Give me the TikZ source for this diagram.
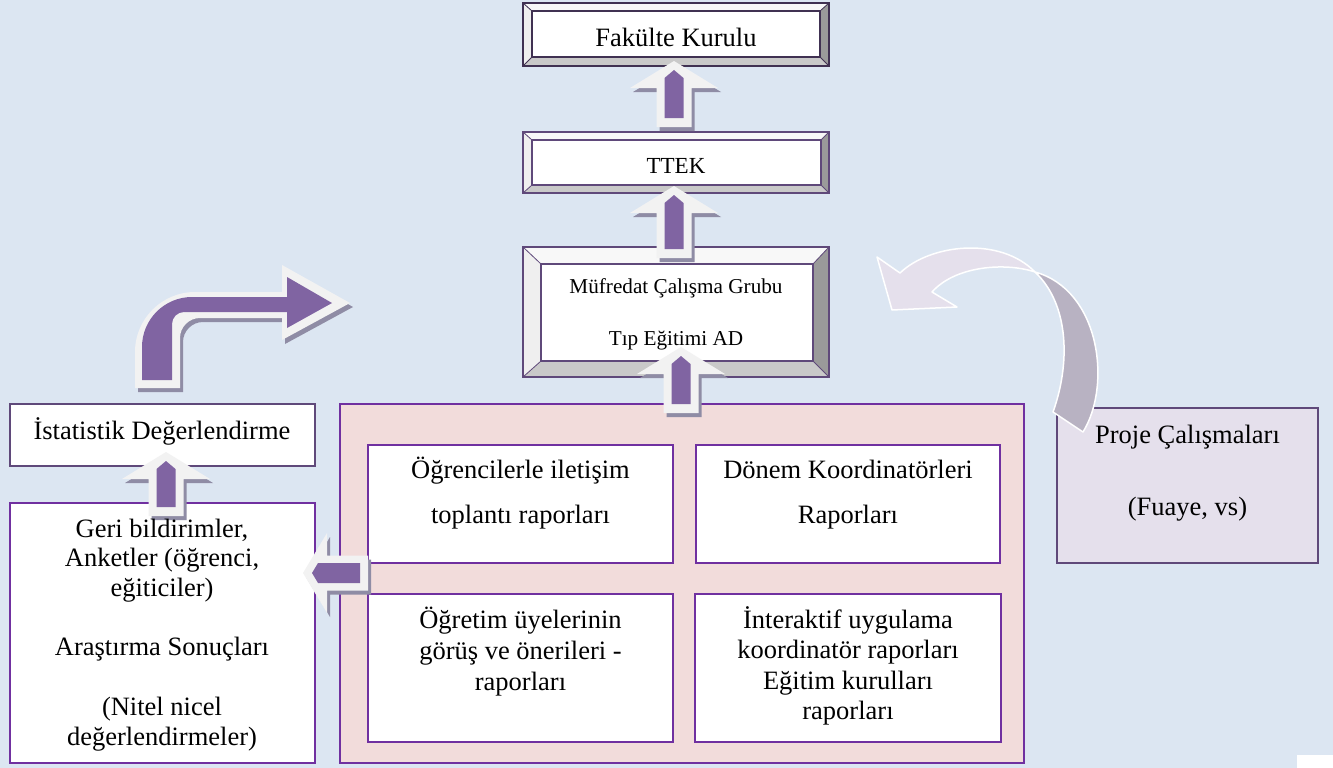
\documentclass[tikz,border=0pt]{standalone}
\usepackage{fontspec}
\setmainfont{Liberation Serif}
\definecolor{bgc}{HTML}{DCE6F2}
\definecolor{pinkc}{HTML}{F2DCDB}
\definecolor{purpc}{HTML}{7030A0}
\definecolor{dpurp}{HTML}{5F497A}
\definecolor{ddpurp}{HTML}{403152}
\definecolor{arrp}{HTML}{8064A2}
\definecolor{arrw}{HTML}{F2F2F2}
\definecolor{arrs}{HTML}{8F8CA5}
\definecolor{lav}{HTML}{E5E0EC}
\definecolor{lavd}{HTML}{B8B2C2}
\definecolor{bevT}{HTML}{F8F8F8}
\definecolor{bevL}{HTML}{EFEFEF}
\definecolor{bevR}{HTML}{9A9A9A}
\definecolor{bevB}{HTML}{C9C9C9}
% bevelled box: outer x1 y1 x2 y2, inner x1 y1 x2 y2, border colour
\newcommand\bevelbox[9]{%
  \fill[bevT] (#1,#2) -- (#3,#2) -- (#7,#6) -- (#5,#6) -- cycle;
  \fill[bevL] (#1,#2) -- (#5,#6) -- (#5,#8) -- (#1,#4) -- cycle;
  \fill[bevR] (#3,#2) -- (#3,#4) -- (#7,#8) -- (#7,#6) -- cycle;
  \fill[bevB] (#1,#4) -- (#3,#4) -- (#7,#8) -- (#5,#8) -- cycle;
  \fill[white] (#5,#6) rectangle (#7,#8);
  \draw[#9,line width=0.8pt] (#1,#2) -- (#5,#6) (#3,#2) -- (#7,#6) (#3,#4) -- (#7,#8) (#1,#4) -- (#5,#8);
  \draw[#9,line width=2.2pt] (#1,#2) rectangle (#3,#4);
  \draw[#9,line width=1.8pt] (#5,#6) rectangle (#7,#8);
}
% up block arrow: centre x, tip y, bottom y
\newcommand\uparr[3]{%
  \fill[arrs,shift={(3,4)}] (#1,#2) -- ({#1+44},{#2+27}) -- ({#1+17.5},{#2+27}) -- ({#1+17.5},#3) -- ({#1-17.5},#3) -- ({#1-17.5},{#2+27}) -- ({#1-44},{#2+27}) -- cycle;
  \fill[arrw] (#1,#2) -- ({#1+44},{#2+27}) -- ({#1+17.5},{#2+27}) -- ({#1+17.5},#3) -- ({#1-17.5},#3) -- ({#1-17.5},{#2+27}) -- ({#1-44},{#2+27}) -- cycle;
  \fill[arrp] ({#1-9.5},{#3-9}) -- ({#1+9.5},{#3-9}) -- ({#1+9.5},{#2+17}) -- (#1,{#2+9}) -- ({#1-9.5},{#2+17}) -- cycle;
}
\begin{document}
\begin{tikzpicture}[x=1pt,y=-1pt,
  txt/.style={inner sep=0pt,anchor=base,align=center},
  pbox/.style={draw=purpc,line width=2pt,fill=white},
  dbox/.style={draw=dpurp,line width=2pt}]
\useasboundingbox (0,0) rectangle (1333,768);
\fill[bgc] (0,0) rectangle (1333,768);
\fill[white] (1297,755) rectangle (1333,768);

% bevelled boxes
\bevelbox{523}{3}{829}{66}{532}{11}{820}{57}{ddpurp}
\bevelbox{523}{132}{829}{193}{532}{140}{821}{185}{dpurp}
\bevelbox{523}{247}{829}{377}{541}{264}{813}{361}{dpurp}

% big pink box and inner boxes
\draw[fill=pinkc,draw=purpc,line width=2pt] (340,404) rectangle (1024,763);
\draw[pbox] (368,445) rectangle (673,563);
\draw[pbox] (696,445) rectangle (1000,563);
\draw[pbox] (368,594) rectangle (673,742);
\draw[pbox] (695,594) rectangle (1001,742);

% left boxes
\draw[dbox,fill=white] (10,404) rectangle (315,466);
\draw[pbox] (10,503) rectangle (315,763);

% project box
\draw[dbox,fill=lav] (1057,408) rectangle (1318,563);

% up arrows
\uparr{674}{61}{127}
\uparr{674}{186}{258}
\uparr{681}{347}{413}
\uparr{166}{452}{516}

% left arrow
\fill[arrs,shift={(3,4)}] (303,573) -- (327,533) -- (327,555.5) -- (368,555.5) -- (368,590.5) -- (327,590.5) -- (327,613) -- cycle;
\fill[arrw] (303,573) -- (327,533) -- (327,555.5) -- (368,555.5) -- (368,590.5) -- (327,590.5) -- (327,613) -- cycle;
\fill[arrp] (312,573) -- (318,563) -- (360,563) -- (360,583) -- (318,583) -- cycle;

% bent arrow (left, upper)
\fill[arrs,shift={(3,4)}] (135,388) -- (135,352) .. controls (135,318.9) and (161.9,292) .. (195,292) -- (282,292) -- (282,265) -- (350,303) -- (282,340) -- (282,318) -- (200,318) .. controls (189,318) and (180,327) .. (180,338) -- (180,388) -- cycle;
\fill[arrw] (135,388) -- (135,352) .. controls (135,318.9) and (161.9,292) .. (195,292) -- (282,292) -- (282,265) -- (350,303) -- (282,340) -- (282,318) -- (200,318) .. controls (189,318) and (180,327) .. (180,338) -- (180,388) -- cycle;
\fill[arrp] (142,380) -- (142,347) .. controls (142,319.4) and (164.4,297) .. (192,297) -- (287,297) -- (287,277) -- (332,303) -- (287,328) -- (287,312) -- (184,312) .. controls (177.4,312) and (172,317.4) .. (172,324) -- (172,380) -- cycle;

% curved arrow (right)
\filldraw[fill=lav,draw=white,line width=1.5pt,line join=round] (900,273) .. controls (930,244) and (1000,236) .. (1035,272) .. controls (1005,262) and (955,266) .. (932,292) -- (957,307) -- (892,310) -- (877,257) -- cycle;
\filldraw[fill=lavd,draw=white,line width=1.5pt,line join=round] (1035,272) .. controls (1100,290) and (1112,385) .. (1083,432) -- (1053,412) .. controls (1070,365) and (1070,305) .. (1035,272) -- cycle;

% texts (base anchor = baseline of the last line)
\node[txt,font={\fontsize{26.5}{30}\selectfont}] (fk) at (676,46.7) {Fakülte Kurulu};
\node[txt,font={\fontsize{23}{28}\selectfont}] (ttek) at (676,173.3) {TTEK};
\node[txt,font={\fontsize{21.2}{51.7}\selectfont}] (mcg) at (676,345) {Müfredat Çalışma Grubu\\Tıp Eğitimi AD};
\node[txt,font={\fontsize{26.5}{30}\selectfont}] (ist) at (162,439) {İstatistik Değerlendirme};
\node[txt,font={\fontsize{26.5}{29.7}\selectfont}] (geri) at (162,745) {Geri bildirimler,\\Anketler (öğrenci,\\eğiticiler)\\[29.7pt]Araştırma Sonuçları\\[29.7pt](Nitel nicel\\değerlendirmeler)};
\node[txt,font={\fontsize{26.5}{45}\selectfont}] (ogr) at (520.5,523) {Öğrencilerle iletişim\\toplantı raporları};
\node[txt,font={\fontsize{26.5}{45}\selectfont}] (don) at (848,523) {Dönem Koordinatörleri\\Raporları};
\node[txt,font={\fontsize{26.5}{31}\selectfont}] (ogt) at (520.5,690) {Öğretim üyelerinin\\görüş ve önerileri -\\raporları};
\node[txt,font={\fontsize{26.5}{30.5}\selectfont}] (int) at (848,719.5) {İnteraktif uygulama\\koordinatör raporları\\Eğitim kurulları\\raporları};
\node[txt,font={\fontsize{26.5}{72}\selectfont}] (proje) at (1187.5,515) {Proje Çalışmaları\\(Fuaye, vs)};
\end{tikzpicture}
\end{document}
